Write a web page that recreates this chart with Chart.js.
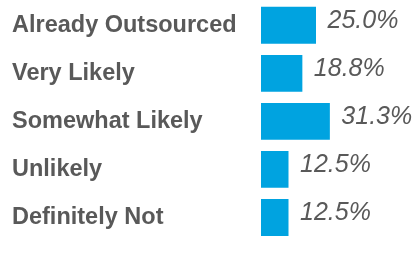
<!DOCTYPE html>
<html>
<head>
<meta charset="utf-8">
<script src="https://cdn.jsdelivr.net/npm/chart.js@4"></script>
<style>
  html, body { margin: 0; padding: 0; background: #ffffff; }
  #wrap { width: 414px; height: 267px; position: relative; }
</style>
</head>
<body>
<div id="wrap"><canvas id="c" width="414" height="267"></canvas></div>
<script>
const categories = ["Already Outsourced", "Very Likely", "Somewhat Likely", "Unlikely", "Definitely Not"];
const values = [25.0, 18.8, 31.3, 12.5, 12.5];
const valueLabels = ["25.0%", "18.8%", "31.3%", "12.5%", "12.5%"];

const TEXT = "#595959";
const BAR = "#00a3e0";

const valueLabelPlugin = {
  id: "valueLabels",
  afterDatasetsDraw(chart) {
    const ctx = chart.ctx;
    const meta = chart.getDatasetMeta(0);
    ctx.save();
    ctx.font = "italic 25px 'Liberation Sans', Arial, sans-serif";
    ctx.fillStyle = TEXT;
    ctx.textAlign = "left";
    ctx.textBaseline = "middle";
    meta.data.forEach((bar, i) => {
      ctx.fillText(valueLabels[i], bar.x + 11.5, bar.y - 4);
    });
    ctx.restore();
  }
};

new Chart(document.getElementById("c"), {
  type: "bar",
  data: {
    labels: categories,
    datasets: [{
      data: values,
      backgroundColor: BAR,
      borderWidth: 0,
      barPercentage: 0.766,
      categoryPercentage: 1.0
    }]
  },
  options: {
    indexAxis: "y",
    responsive: false,
    animation: false,
    devicePixelRatio: 1,
    layout: { padding: { left: 12, right: 21, top: 1.2, bottom: 25.5 } },
    plugins: { legend: { display: false }, tooltip: { enabled: false } },
    scales: {
      x: {
        display: false,
        min: 0,
        max: 60
      },
      y: {
        grid: { display: false, drawTicks: false },
        border: { display: false },
        ticks: {
          crossAlign: "far",
          padding: 0,
          color: TEXT,
          font: { family: "'Liberation Sans', Arial, sans-serif", size: 23.5, weight: "bold" }
        },
        afterFit(scale) {
          scale.width = 249;
          scale.paddingTop = 0;
          scale.paddingBottom = 0;
        }
      }
    }
  },
  plugins: [valueLabelPlugin]
});
</script>
</body>
</html>
